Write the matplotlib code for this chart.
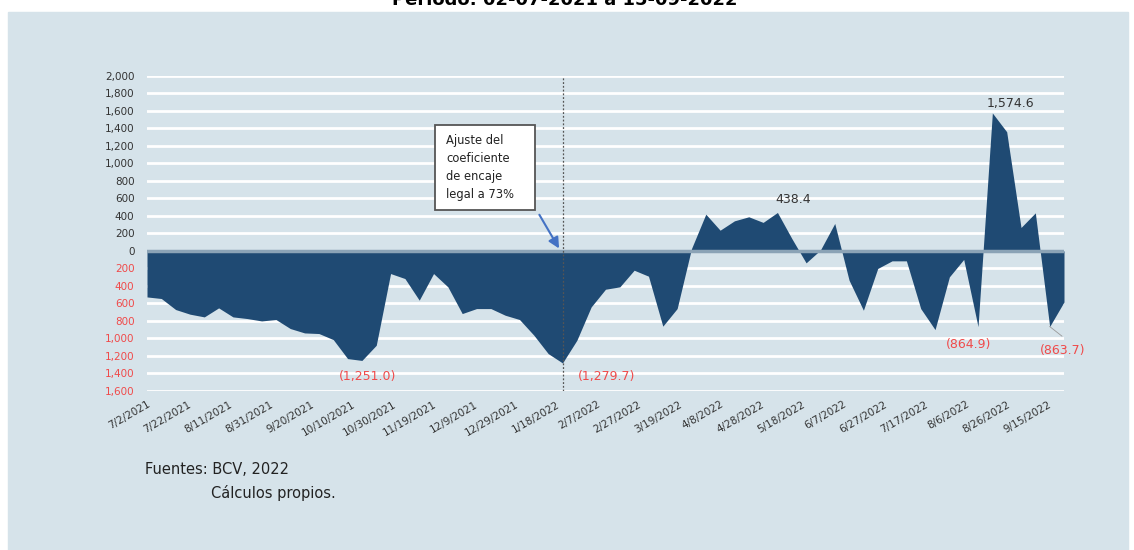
import datetime as dt
import matplotlib
matplotlib.use("Agg")
import matplotlib.pyplot as plt
import matplotlib.dates as mdates
from matplotlib.patches import Rectangle
import numpy as np

# weekly net position, millions
start = dt.date(2021, 7, 2)
values = [
    -526, -544, -670, -723, -754, -651, -754, -773, -800, -784,
    -887, -937, -944, -1013, -1230, -1251.0, -1078, -259, -316, -563,
    -259, -411, -716, -659, -659, -735, -784, -963, -1173, -1279.7,
    -1021, -640, -438, -411, -221, -289, -860, -659, 25, 419,
    236, 343, 389, 325, 438.4, 142, -137, 10, 313, -335,
    -678, -201, -114, -114, -659, -899, -297, -98, -864.9, 1574.6,
    1360, 267, 434, -863.7, -583,
]
dates = [start + dt.timedelta(days=7 * i) for i in range(len(values))]
tick_dates = [start + dt.timedelta(days=20 * k) for k in range(23)]
yticks = list(range(-1600, 2001, 200))

# points that carry a value label: (index, dx, dy) in points
labelled = [(15, 4, -11.5), (29, 32, -10), (44, 11, 9), (59, 13, 7), (58, -6.5, -13), (63, 9.5, -17)]

navy = "#1f4a73"
red = "#f04a4a"

fig = plt.figure(figsize=(11.34, 5.5), dpi=100)
fig.patches.append(Rectangle((8 / 1134, 0), 1120 / 1134, 538 / 550,
                             transform=fig.transFigure, color="#d6e3ea", zorder=-10))
fig.text(0.498, 1.0, "Periodo: 02-07-2021 a 15-09-2022", ha="center", va="center",
         fontsize=13, fontweight="bold", color="black")

ax = fig.add_axes([147 / 1134, 1 - 391 / 550, 917 / 1134, 315.3 / 550])
ax.set_facecolor("none")
x = mdates.date2num(dates)
ax.fill_between(x, values, 0, color=navy, lw=0, zorder=3)
ax.axhline(0, color="#8ba3b6", lw=2.5, zorder=4)

ax.set_ylim(-1600, 2000)
ax.set_xlim(x[0], x[-1])
ax.set_yticks(yticks)
ax.set_yticklabels([f"{abs(v):,}" for v in yticks])
for lab, v in zip(ax.get_yticklabels(), yticks):
    lab.set_color(red if v < 0 else "#333333")
ax.tick_params(axis="y", length=0, labelsize=7.5, pad=9)
ax.grid(axis="y", color="white", lw=2, zorder=1)

ax.set_xticks(mdates.date2num(tick_dates))
ax.set_xticklabels([f"{d.month}/{d.day}/{d.year}" for d in tick_dates],
                   rotation=30, ha="right", rotation_mode="anchor", fontsize=7.5, color="#333333")
ax.tick_params(axis="x", length=0, pad=6)
for s in ax.spines.values():
    s.set_visible(False)

# reserve requirement change
ax.axvline(x[29], color="#555555", lw=0.9, ls=(0, (1.5, 1.5)), ymax=1.0, zorder=5)
ax.annotate("", xy=(x[29] - 1, 0), xytext=(x[29] - 12, 440),
            arrowprops=dict(arrowstyle="-|>", color="#4472c4", lw=1.5, mutation_scale=16), zorder=6)
fig.patches.append(Rectangle((435 / 1134, 1 - 210 / 550), 100 / 1134, 85 / 550,
                             transform=fig.transFigure, fc="white", ec="#555555", lw=1.3, zorder=6))
fig.text(446 / 1134, 1 - 134 / 550, "Ajuste del\ncoeficiente\nde encaje\nlegal a 73%", fontsize=8.3,
         va="top", ha="left", linespacing=1.5, color="#222222", zorder=7)

for i, dx, dy in labelled:
    v = values[i]
    txt = f"({abs(v):,.1f})" if v < 0 else f"{v:,.1f}"
    ax.annotate(txt, (x[i], v), xytext=(dx, dy), textcoords="offset points",
                ha="center", va="center", fontsize=9, color=red if v < 0 else "#333333", zorder=7)
ax.plot([x[63], x[63] + 6], [values[63], values[63] - 110], color="#999999", lw=0.6, zorder=6)

fig.text(145 / 1134, 1 - 470 / 550, "Fuentes: BCV, 2022", fontsize=10.5, color="#222222", va="center")
fig.text(211 / 1134, 1 - 493 / 550, "Cálculos propios.", fontsize=10.5, color="#222222", va="center")

fig.savefig("out.png", dpi=100)
